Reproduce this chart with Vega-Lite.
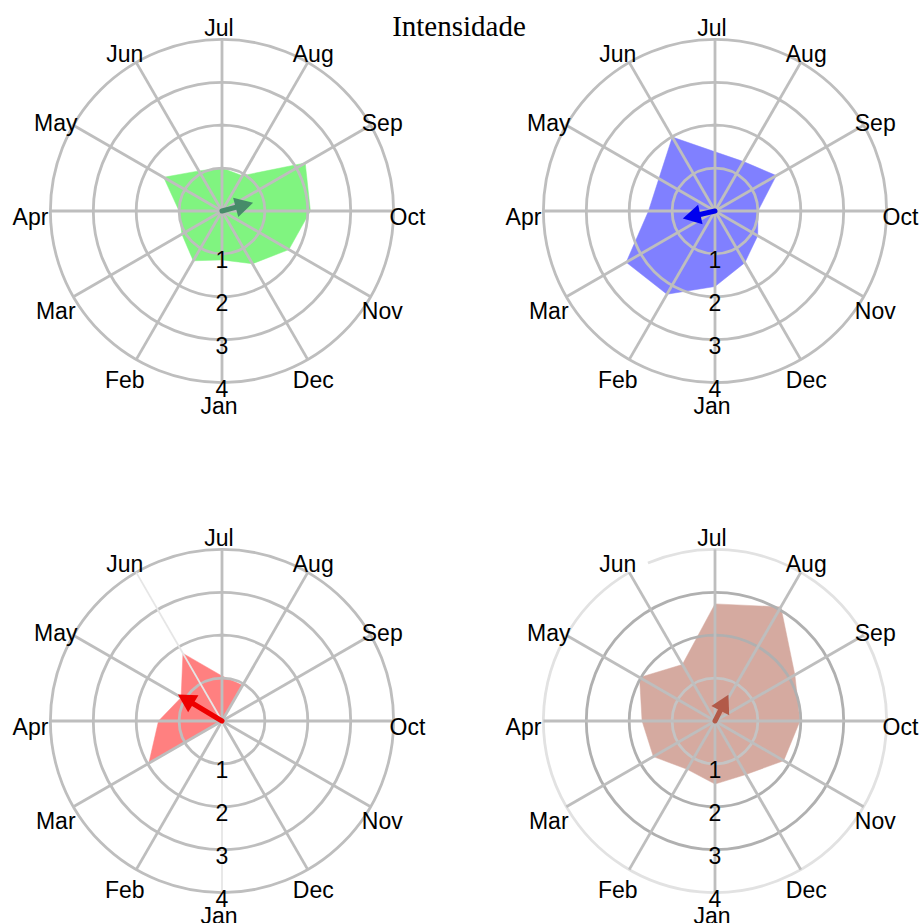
{
"$schema":"https://vega.github.io/schema/vega-lite/v6.json",
"padding":0,
"background":"white",
"usermeta":{"embedOptions":{"actions":false}},
"config":{"view":{"stroke":null},"font":"Liberation Sans"},
"datasets":{
"months":[{"m":"Jan","i":0},{"m":"Feb","i":1},{"m":"Mar","i":2},{"m":"Apr","i":3},{"m":"May","i":4},{"m":"Jun","i":5},{"m":"Jul","i":6},{"m":"Aug","i":7},{"m":"Sep","i":8},{"m":"Oct","i":9},{"m":"Nov","i":10},{"m":"Dec","i":11}],
"rings":[{"r":1},{"r":2},{"r":3},{"r":4}],
"arrows":[{"chart":"A","deg":75,"len":0.75},{"chart":"B","deg":257,"len":0.77},{"chart":"C","deg":301,"len":1.2},{"chart":"D","deg":27,"len":0.69}],
"radar":[
{"chart":"A","m":"Jan","i":0,"v":1.14},{"chart":"A","m":"Feb","i":1,"v":1.34},{"chart":"A","m":"Mar","i":2,"v":1.08},{"chart":"A","m":"Apr","i":3,"v":1.0},{"chart":"A","m":"May","i":4,"v":1.57},{"chart":"A","m":"Jun","i":5,"v":1.08},{"chart":"A","m":"Jul","i":6,"v":1.0},{"chart":"A","m":"Aug","i":7,"v":0.95},{"chart":"A","m":"Sep","i":8,"v":2.24},{"chart":"A","m":"Oct","i":9,"v":2.06},{"chart":"A","m":"Nov","i":10,"v":1.8},{"chart":"A","m":"Dec","i":11,"v":1.42},
{"chart":"B","m":"Jan","i":0,"v":1.76},{"chart":"B","m":"Feb","i":1,"v":2.24},{"chart":"B","m":"Mar","i":2,"v":2.39},{"chart":"B","m":"Apr","i":3,"v":1.55},{"chart":"B","m":"May","i":4,"v":1.51},{"chart":"B","m":"Jun","i":5,"v":1.99},{"chart":"B","m":"Jul","i":6,"v":1.38},{"chart":"B","m":"Aug","i":7,"v":1.33},{"chart":"B","m":"Sep","i":8,"v":1.65},{"chart":"B","m":"Oct","i":9,"v":1.0},{"chart":"B","m":"Nov","i":10,"v":1.15},{"chart":"B","m":"Dec","i":11,"v":1.39},
{"chart":"C","m":"Jan","i":0,"v":0},{"chart":"C","m":"Feb","i":1,"v":0},{"chart":"C","m":"Mar","i":2,"v":1.97},{"chart":"C","m":"Apr","i":3,"v":1.48},{"chart":"C","m":"May","i":4,"v":1.1},{"chart":"C","m":"Jun","i":5,"v":1.82},{"chart":"C","m":"Jul","i":6,"v":1.05},{"chart":"C","m":"Aug","i":7,"v":0.96},{"chart":"C","m":"Sep","i":8,"v":0},{"chart":"C","m":"Oct","i":9,"v":0},{"chart":"C","m":"Nov","i":10,"v":0},{"chart":"C","m":"Dec","i":11,"v":0},
{"chart":"D","m":"Jan","i":0,"v":1.47},{"chart":"D","m":"Feb","i":1,"v":1.3},{"chart":"D","m":"Mar","i":2,"v":1.66},{"chart":"D","m":"Apr","i":3,"v":1.7},{"chart":"D","m":"May","i":4,"v":2.03},{"chart":"D","m":"Jun","i":5,"v":1.52},{"chart":"D","m":"Jul","i":6,"v":2.73},{"chart":"D","m":"Aug","i":7,"v":3.07},{"chart":"D","m":"Sep","i":8,"v":2.15},{"chart":"D","m":"Oct","i":9,"v":1.98},{"chart":"D","m":"Nov","i":10,"v":1.85},{"chart":"D","m":"Dec","i":11,"v":1.44}
]},
"columns":2,
"spacing":{"row":97,"column":63},
"bounds":"flush",
"concat":[
{"width":430,"height":413,"layer":[
{"data":{"name":"radar"},"transform":[{"filter":"datum.chart==='A'"},{"calculate":"(180+30*datum.i)*PI/180","as":"a"},{"calculate":"datum.v*sin(datum.a)","as":"x"},{"calculate":"datum.v*cos(datum.a)","as":"y"}],"mark":{"type":"line","interpolate":"linear-closed","fill":"#80F480","stroke":"#80F480","strokeWidth":0.5},"encoding":{"x":{"field":"x","type":"quantitative","scale":{"domain":[-5.1748,4.8485],"nice":false,"zero":false},"axis":null},"y":{"field":"y","type":"quantitative","scale":{"domain":[-4.7086,4.9184],"nice":false,"zero":false},"axis":null},"order":{"field":"i","type":"quantitative"}}},
{"data":{"name":"rings"},"mark":{"type":"arc","filled":false,"stroke":"#BEBEBE","strokeWidth":2.8,"theta":0,"theta2":6.2832},"encoding":{"x":{"datum":0,"type":"quantitative","scale":{"domain":[-5.1748,4.8485],"nice":false,"zero":false},"axis":null},"y":{"datum":0,"type":"quantitative","scale":{"domain":[-4.7086,4.9184],"nice":false,"zero":false},"axis":null},"radius":{"field":"r","type":"quantitative","scale":{"type":"linear","domain":[0,4],"range":[0,171.6]}},"radius2":{"field":"r"}}},
{"data":{"name":"months"},"transform":[{"calculate":"(180+30*datum.i)*PI/180","as":"a"},{"calculate":"4*sin(datum.a)","as":"x"},{"calculate":"4*cos(datum.a)","as":"y"}],"mark":{"type":"rule","stroke":"#BEBEBE","strokeWidth":2.8},"encoding":{"x":{"field":"x","type":"quantitative","scale":{"domain":[-5.1748,4.8485],"nice":false,"zero":false},"axis":null},"y":{"field":"y","type":"quantitative","scale":{"domain":[-4.7086,4.9184],"nice":false,"zero":false},"axis":null},"x2":{"datum":0},"y2":{"datum":0}}},
{"data":{"name":"rings"},"transform":[{"calculate":"0","as":"x"},{"calculate":"-datum.r","as":"y"}],"mark":{"type":"text","font":"Liberation Sans","fontSize":23,"align":"center","baseline":"middle","dy":7.5,"color":"#000000"},"encoding":{"x":{"field":"x","type":"quantitative","scale":{"domain":[-5.1748,4.8485],"nice":false,"zero":false},"axis":null},"y":{"field":"y","type":"quantitative","scale":{"domain":[-4.7086,4.9184],"nice":false,"zero":false},"axis":null},"text":{"field":"r","type":"quantitative"}}},
{"data":{"name":"months"},"transform":[{"calculate":"(180+30*datum.i)*PI/180","as":"a"},{"calculate":"4.394*sin(datum.a)","as":"x"},{"calculate":"4.394*cos(datum.a)","as":"y"}],"mark":{"type":"text","font":"Liberation Sans","fontSize":23,"align":"center","baseline":"middle","dx":-3,"dy":7,"color":"#000000"},"encoding":{"x":{"field":"x","type":"quantitative","scale":{"domain":[-5.1748,4.8485],"nice":false,"zero":false},"axis":null},"y":{"field":"y","type":"quantitative","scale":{"domain":[-4.7086,4.9184],"nice":false,"zero":false},"axis":null},"text":{"field":"m","type":"nominal"}}},
{"data":{"name":"arrows"},"transform":[{"filter":"datum.chart==='A'"},{"calculate":"datum.deg*PI/180","as":"a"},{"calculate":"(datum.len-0.25)*sin(datum.a)","as":"x"},{"calculate":"(datum.len-0.25)*cos(datum.a)","as":"y"}],"mark":{"type":"rule","stroke":"#468C69","strokeWidth":5,"strokeCap":"round"},"encoding":{"x":{"field":"x","type":"quantitative","scale":{"domain":[-5.1748,4.8485],"nice":false,"zero":false},"axis":null},"y":{"field":"y","type":"quantitative","scale":{"domain":[-4.7086,4.9184],"nice":false,"zero":false},"axis":null},"x2":{"datum":0},"y2":{"datum":0}}},
{"data":{"name":"arrows"},"transform":[{"filter":"datum.chart==='A'"},{"calculate":"datum.deg*PI/180","as":"a"},{"calculate":"datum.len*sin(datum.a)","as":"x"},{"calculate":"datum.len*cos(datum.a)","as":"y"}],"mark":{"type":"point","shape":"M0,0L-1,1.8L1,1.8Z","size":400,"filled":true,"fill":"#468C69","strokeWidth":0,"opacity":1},"encoding":{"x":{"field":"x","type":"quantitative","scale":{"domain":[-5.1748,4.8485],"nice":false,"zero":false},"axis":null},"y":{"field":"y","type":"quantitative","scale":{"domain":[-4.7086,4.9184],"nice":false,"zero":false},"axis":null},"angle":{"field":"deg","type":"quantitative","scale":null}}},
{"data":{"values":[{"t":"Intensidade"}]},"mark":{"type":"text","font":"Liberation Serif","fontSize":29,"align":"center","baseline":"alphabetic","color":"#000000"},"encoding":{"x":{"datum":5.524,"type":"quantitative","scale":{"domain":[-5.1748,4.8485],"nice":false,"zero":false},"axis":null},"y":{"datum":4.079,"type":"quantitative","scale":{"domain":[-4.7086,4.9184],"nice":false,"zero":false},"axis":null},"text":{"field":"t","type":"nominal"}}}
]},
{"width":430,"height":413,"layer":[
{"data":{"name":"radar"},"transform":[{"filter":"datum.chart==='B'"},{"calculate":"(180+30*datum.i)*PI/180","as":"a"},{"calculate":"datum.v*sin(datum.a)","as":"x"},{"calculate":"datum.v*cos(datum.a)","as":"y"}],"mark":{"type":"line","interpolate":"linear-closed","fill":"#8080FF","stroke":"#8080FF","strokeWidth":0.5},"encoding":{"x":{"field":"x","type":"quantitative","scale":{"domain":[-5.1748,4.8485],"nice":false,"zero":false},"axis":null},"y":{"field":"y","type":"quantitative","scale":{"domain":[-4.7086,4.9184],"nice":false,"zero":false},"axis":null},"order":{"field":"i","type":"quantitative"}}},
{"data":{"name":"rings"},"mark":{"type":"arc","filled":false,"stroke":"#BEBEBE","strokeWidth":2.8,"theta":0,"theta2":6.2832},"encoding":{"x":{"datum":0,"type":"quantitative","scale":{"domain":[-5.1748,4.8485],"nice":false,"zero":false},"axis":null},"y":{"datum":0,"type":"quantitative","scale":{"domain":[-4.7086,4.9184],"nice":false,"zero":false},"axis":null},"radius":{"field":"r","type":"quantitative","scale":{"type":"linear","domain":[0,4],"range":[0,171.6]}},"radius2":{"field":"r"}}},
{"data":{"name":"months"},"transform":[{"calculate":"(180+30*datum.i)*PI/180","as":"a"},{"calculate":"4*sin(datum.a)","as":"x"},{"calculate":"4*cos(datum.a)","as":"y"}],"mark":{"type":"rule","stroke":"#BEBEBE","strokeWidth":2.8},"encoding":{"x":{"field":"x","type":"quantitative","scale":{"domain":[-5.1748,4.8485],"nice":false,"zero":false},"axis":null},"y":{"field":"y","type":"quantitative","scale":{"domain":[-4.7086,4.9184],"nice":false,"zero":false},"axis":null},"x2":{"datum":0},"y2":{"datum":0}}},
{"data":{"name":"rings"},"transform":[{"calculate":"0","as":"x"},{"calculate":"-datum.r","as":"y"}],"mark":{"type":"text","font":"Liberation Sans","fontSize":23,"align":"center","baseline":"middle","dy":7.5,"color":"#000000"},"encoding":{"x":{"field":"x","type":"quantitative","scale":{"domain":[-5.1748,4.8485],"nice":false,"zero":false},"axis":null},"y":{"field":"y","type":"quantitative","scale":{"domain":[-4.7086,4.9184],"nice":false,"zero":false},"axis":null},"text":{"field":"r","type":"quantitative"}}},
{"data":{"name":"months"},"transform":[{"calculate":"(180+30*datum.i)*PI/180","as":"a"},{"calculate":"4.394*sin(datum.a)","as":"x"},{"calculate":"4.394*cos(datum.a)","as":"y"}],"mark":{"type":"text","font":"Liberation Sans","fontSize":23,"align":"center","baseline":"middle","dx":-3,"dy":7,"color":"#000000"},"encoding":{"x":{"field":"x","type":"quantitative","scale":{"domain":[-5.1748,4.8485],"nice":false,"zero":false},"axis":null},"y":{"field":"y","type":"quantitative","scale":{"domain":[-4.7086,4.9184],"nice":false,"zero":false},"axis":null},"text":{"field":"m","type":"nominal"}}},
{"data":{"name":"arrows"},"transform":[{"filter":"datum.chart==='B'"},{"calculate":"datum.deg*PI/180","as":"a"},{"calculate":"(datum.len-0.25)*sin(datum.a)","as":"x"},{"calculate":"(datum.len-0.25)*cos(datum.a)","as":"y"}],"mark":{"type":"rule","stroke":"#0000EE","strokeWidth":5,"strokeCap":"round"},"encoding":{"x":{"field":"x","type":"quantitative","scale":{"domain":[-5.1748,4.8485],"nice":false,"zero":false},"axis":null},"y":{"field":"y","type":"quantitative","scale":{"domain":[-4.7086,4.9184],"nice":false,"zero":false},"axis":null},"x2":{"datum":0},"y2":{"datum":0}}},
{"data":{"name":"arrows"},"transform":[{"filter":"datum.chart==='B'"},{"calculate":"datum.deg*PI/180","as":"a"},{"calculate":"datum.len*sin(datum.a)","as":"x"},{"calculate":"datum.len*cos(datum.a)","as":"y"}],"mark":{"type":"point","shape":"M0,0L-1,1.8L1,1.8Z","size":400,"filled":true,"fill":"#0000EE","strokeWidth":0,"opacity":1},"encoding":{"x":{"field":"x","type":"quantitative","scale":{"domain":[-5.1748,4.8485],"nice":false,"zero":false},"axis":null},"y":{"field":"y","type":"quantitative","scale":{"domain":[-4.7086,4.9184],"nice":false,"zero":false},"axis":null},"angle":{"field":"deg","type":"quantitative","scale":null}}}
]},
{"width":430,"height":413,"layer":[
{"data":{"name":"radar"},"transform":[{"filter":"datum.chart==='C'"},{"calculate":"(180+30*datum.i)*PI/180","as":"a"},{"calculate":"datum.v*sin(datum.a)","as":"x"},{"calculate":"datum.v*cos(datum.a)","as":"y"}],"mark":{"type":"line","interpolate":"linear-closed","fill":"#FF8080","stroke":"#FF8080","strokeWidth":0.5},"encoding":{"x":{"field":"x","type":"quantitative","scale":{"domain":[-5.1748,4.8485],"nice":false,"zero":false},"axis":null},"y":{"field":"y","type":"quantitative","scale":{"domain":[-4.7086,4.9184],"nice":false,"zero":false},"axis":null},"order":{"field":"i","type":"quantitative"}}},
{"data":{"name":"rings"},"mark":{"type":"arc","filled":false,"stroke":"#BEBEBE","strokeWidth":2.8,"theta":0,"theta2":6.2832},"encoding":{"x":{"datum":0,"type":"quantitative","scale":{"domain":[-5.1748,4.8485],"nice":false,"zero":false},"axis":null},"y":{"datum":0,"type":"quantitative","scale":{"domain":[-4.7086,4.9184],"nice":false,"zero":false},"axis":null},"radius":{"field":"r","type":"quantitative","scale":{"type":"linear","domain":[0,4],"range":[0,171.6]}},"radius2":{"field":"r"}}},
{"data":{"name":"months"},"transform":[{"filter":"datum.i!==0 && datum.i!==5"},{"calculate":"(180+30*datum.i)*PI/180","as":"a"},{"calculate":"4*sin(datum.a)","as":"x"},{"calculate":"4*cos(datum.a)","as":"y"}],"mark":{"type":"rule","stroke":"#BEBEBE","strokeWidth":2.8},"encoding":{"x":{"field":"x","type":"quantitative","scale":{"domain":[-5.1748,4.8485],"nice":false,"zero":false},"axis":null},"y":{"field":"y","type":"quantitative","scale":{"domain":[-4.7086,4.9184],"nice":false,"zero":false},"axis":null},"x2":{"datum":0},"y2":{"datum":0}}},
{"data":{"name":"months"},"transform":[{"filter":"datum.i===0 || datum.i===5"},{"calculate":"(180+30*datum.i)*PI/180","as":"a"},{"calculate":"4*sin(datum.a)","as":"x"},{"calculate":"4*cos(datum.a)","as":"y"}],"mark":{"type":"rule","stroke":"#E6E6E6","strokeWidth":1.8},"encoding":{"x":{"field":"x","type":"quantitative","scale":{"domain":[-5.1748,4.8485],"nice":false,"zero":false},"axis":null},"y":{"field":"y","type":"quantitative","scale":{"domain":[-4.7086,4.9184],"nice":false,"zero":false},"axis":null},"x2":{"datum":0},"y2":{"datum":0}}},
{"data":{"name":"rings"},"transform":[{"calculate":"0","as":"x"},{"calculate":"-datum.r","as":"y"}],"mark":{"type":"text","font":"Liberation Sans","fontSize":23,"align":"center","baseline":"middle","dy":7.5,"color":"#000000"},"encoding":{"x":{"field":"x","type":"quantitative","scale":{"domain":[-5.1748,4.8485],"nice":false,"zero":false},"axis":null},"y":{"field":"y","type":"quantitative","scale":{"domain":[-4.7086,4.9184],"nice":false,"zero":false},"axis":null},"text":{"field":"r","type":"quantitative"}}},
{"data":{"name":"months"},"transform":[{"calculate":"(180+30*datum.i)*PI/180","as":"a"},{"calculate":"4.394*sin(datum.a)","as":"x"},{"calculate":"4.394*cos(datum.a)","as":"y"}],"mark":{"type":"text","font":"Liberation Sans","fontSize":23,"align":"center","baseline":"middle","dx":-3,"dy":7,"color":"#000000","clip":true},"encoding":{"x":{"field":"x","type":"quantitative","scale":{"domain":[-5.1748,4.8485],"nice":false,"zero":false},"axis":null},"y":{"field":"y","type":"quantitative","scale":{"domain":[-4.7086,4.9184],"nice":false,"zero":false},"axis":null},"text":{"field":"m","type":"nominal"}}},
{"data":{"name":"arrows"},"transform":[{"filter":"datum.chart==='C'"},{"calculate":"datum.deg*PI/180","as":"a"},{"calculate":"(datum.len-0.25)*sin(datum.a)","as":"x"},{"calculate":"(datum.len-0.25)*cos(datum.a)","as":"y"}],"mark":{"type":"rule","stroke":"#EE0000","strokeWidth":5,"strokeCap":"round"},"encoding":{"x":{"field":"x","type":"quantitative","scale":{"domain":[-5.1748,4.8485],"nice":false,"zero":false},"axis":null},"y":{"field":"y","type":"quantitative","scale":{"domain":[-4.7086,4.9184],"nice":false,"zero":false},"axis":null},"x2":{"datum":0},"y2":{"datum":0}}},
{"data":{"name":"arrows"},"transform":[{"filter":"datum.chart==='C'"},{"calculate":"datum.deg*PI/180","as":"a"},{"calculate":"datum.len*sin(datum.a)","as":"x"},{"calculate":"datum.len*cos(datum.a)","as":"y"}],"mark":{"type":"point","shape":"M0,0L-1,1.8L1,1.8Z","size":400,"filled":true,"fill":"#EE0000","strokeWidth":0,"opacity":1},"encoding":{"x":{"field":"x","type":"quantitative","scale":{"domain":[-5.1748,4.8485],"nice":false,"zero":false},"axis":null},"y":{"field":"y","type":"quantitative","scale":{"domain":[-4.7086,4.9184],"nice":false,"zero":false},"axis":null},"angle":{"field":"deg","type":"quantitative","scale":null}}}
]},
{"width":430,"height":413,"layer":[
{"data":{"name":"radar"},"transform":[{"filter":"datum.chart==='D'"},{"calculate":"(180+30*datum.i)*PI/180","as":"a"},{"calculate":"datum.v*sin(datum.a)","as":"x"},{"calculate":"datum.v*cos(datum.a)","as":"y"}],"mark":{"type":"line","interpolate":"linear-closed","fill":"#D5AAA0","stroke":"#D5AAA0","strokeWidth":0.5},"encoding":{"x":{"field":"x","type":"quantitative","scale":{"domain":[-5.1748,4.8485],"nice":false,"zero":false},"axis":null},"y":{"field":"y","type":"quantitative","scale":{"domain":[-4.7086,4.9184],"nice":false,"zero":false},"axis":null},"order":{"field":"i","type":"quantitative"}}},
{"data":{"name":"rings"},"transform":[{"filter":"datum.r===1"}],"mark":{"type":"arc","filled":false,"stroke":"#C4C4C4","strokeWidth":2.8,"theta":0,"theta2":6.2832},"encoding":{"x":{"datum":0,"type":"quantitative","scale":{"domain":[-5.1748,4.8485],"nice":false,"zero":false},"axis":null},"y":{"datum":0,"type":"quantitative","scale":{"domain":[-4.7086,4.9184],"nice":false,"zero":false},"axis":null},"radius":{"field":"r","type":"quantitative","scale":{"type":"linear","domain":[0,4],"range":[0,171.6]}},"radius2":{"field":"r"}}},
{"data":{"name":"rings"},"transform":[{"filter":"datum.r===2 || datum.r===3"}],"mark":{"type":"arc","filled":false,"stroke":"#B0B0B0","strokeWidth":2.8,"theta":0,"theta2":6.2832},"encoding":{"x":{"datum":0,"type":"quantitative","scale":{"domain":[-5.1748,4.8485],"nice":false,"zero":false},"axis":null},"y":{"datum":0,"type":"quantitative","scale":{"domain":[-4.7086,4.9184],"nice":false,"zero":false},"axis":null},"radius":{"field":"r","type":"quantitative","scale":{"type":"linear","domain":[0,4],"range":[0,171.6]}},"radius2":{"field":"r"}}},
{"data":{"name":"rings"},"transform":[{"filter":"datum.r===4"}],"mark":{"type":"arc","filled":false,"stroke":"#E2E2E2","strokeWidth":2.8,"theta":5.8818,"theta2":12.0428},"encoding":{"x":{"datum":0,"type":"quantitative","scale":{"domain":[-5.1748,4.8485],"nice":false,"zero":false},"axis":null},"y":{"datum":0,"type":"quantitative","scale":{"domain":[-4.7086,4.9184],"nice":false,"zero":false},"axis":null},"radius":{"field":"r","type":"quantitative","scale":{"type":"linear","domain":[0,4],"range":[0,171.6]}},"radius2":{"field":"r"}}},
{"data":{"name":"months"},"transform":[{"calculate":"(180+30*datum.i)*PI/180","as":"a"},{"calculate":"4*sin(datum.a)","as":"x"},{"calculate":"4*cos(datum.a)","as":"y"}],"mark":{"type":"rule","stroke":"#BEBEBE","strokeWidth":2.8},"encoding":{"x":{"field":"x","type":"quantitative","scale":{"domain":[-5.1748,4.8485],"nice":false,"zero":false},"axis":null},"y":{"field":"y","type":"quantitative","scale":{"domain":[-4.7086,4.9184],"nice":false,"zero":false},"axis":null},"x2":{"datum":0},"y2":{"datum":0}}},
{"data":{"name":"rings"},"transform":[{"calculate":"0","as":"x"},{"calculate":"-datum.r","as":"y"}],"mark":{"type":"text","font":"Liberation Sans","fontSize":23,"align":"center","baseline":"middle","dy":7.5,"color":"#000000"},"encoding":{"x":{"field":"x","type":"quantitative","scale":{"domain":[-5.1748,4.8485],"nice":false,"zero":false},"axis":null},"y":{"field":"y","type":"quantitative","scale":{"domain":[-4.7086,4.9184],"nice":false,"zero":false},"axis":null},"text":{"field":"r","type":"quantitative"}}},
{"data":{"name":"months"},"transform":[{"calculate":"(180+30*datum.i)*PI/180","as":"a"},{"calculate":"4.394*sin(datum.a)","as":"x"},{"calculate":"4.394*cos(datum.a)","as":"y"}],"mark":{"type":"text","font":"Liberation Sans","fontSize":23,"align":"center","baseline":"middle","dx":-3,"dy":7,"color":"#000000","clip":true},"encoding":{"x":{"field":"x","type":"quantitative","scale":{"domain":[-5.1748,4.8485],"nice":false,"zero":false},"axis":null},"y":{"field":"y","type":"quantitative","scale":{"domain":[-4.7086,4.9184],"nice":false,"zero":false},"axis":null},"text":{"field":"m","type":"nominal"}}},
{"data":{"name":"arrows"},"transform":[{"filter":"datum.chart==='D'"},{"calculate":"datum.deg*PI/180","as":"a"},{"calculate":"(datum.len-0.25)*sin(datum.a)","as":"x"},{"calculate":"(datum.len-0.25)*cos(datum.a)","as":"y"}],"mark":{"type":"rule","stroke":"#B25A48","strokeWidth":5,"strokeCap":"round"},"encoding":{"x":{"field":"x","type":"quantitative","scale":{"domain":[-5.1748,4.8485],"nice":false,"zero":false},"axis":null},"y":{"field":"y","type":"quantitative","scale":{"domain":[-4.7086,4.9184],"nice":false,"zero":false},"axis":null},"x2":{"datum":0},"y2":{"datum":0}}},
{"data":{"name":"arrows"},"transform":[{"filter":"datum.chart==='D'"},{"calculate":"datum.deg*PI/180","as":"a"},{"calculate":"datum.len*sin(datum.a)","as":"x"},{"calculate":"datum.len*cos(datum.a)","as":"y"}],"mark":{"type":"point","shape":"M0,0L-1,1.8L1,1.8Z","size":400,"filled":true,"fill":"#B25A48","strokeWidth":0,"opacity":1},"encoding":{"x":{"field":"x","type":"quantitative","scale":{"domain":[-5.1748,4.8485],"nice":false,"zero":false},"axis":null},"y":{"field":"y","type":"quantitative","scale":{"domain":[-4.7086,4.9184],"nice":false,"zero":false},"axis":null},"angle":{"field":"deg","type":"quantitative","scale":null}}}
]}
]
}
